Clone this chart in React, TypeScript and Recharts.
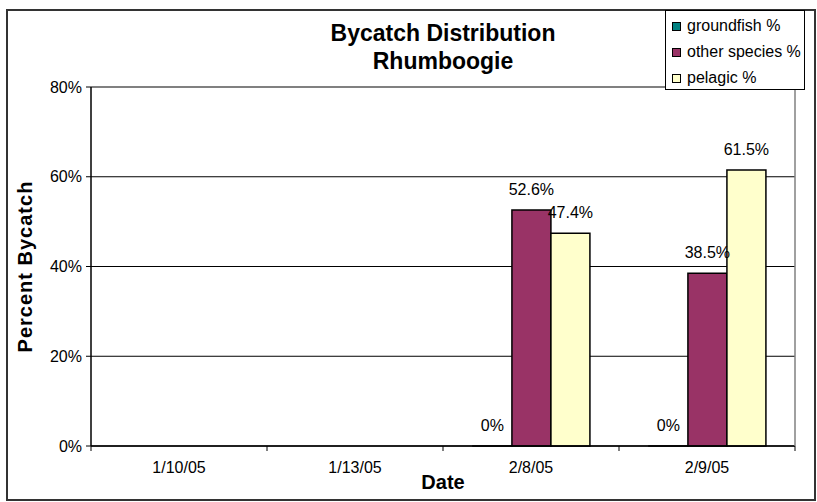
import React from "react";
import {
  Bar,
  BarChart,
  CartesianGrid,
  LabelList,
  Legend,
  ReferenceLine,
  XAxis,
  YAxis,
} from "recharts";

const DATES = ["1/10/05", "1/13/05", "2/8/05", "2/9/05"];
const GROUNDFISH = [null, null, 0, 0];
const OTHER = [null, null, 52.6, 38.5];
const PELAGIC = [null, null, 47.4, 61.5];
const Y_TICKS = [0, 20, 40, 60, 80];

const SERIES = [
  { key: "groundfish", name: "groundfish %", color: "#008080" },
  { key: "other", name: "other species %", color: "#993366" },
  { key: "pelagic", name: "pelagic %", color: "#FFFFCC" },
];

const data = DATES.map((date, i) => ({
  date,
  groundfish: GROUNDFISH[i],
  other: OTHER[i],
  pelagic: PELAGIC[i],
}));

const W = 817;
const H = 502;
const Y_W = 91;
const R_W = 22;
const X_H = 56;
const PLOT_W = W - Y_W - R_W;
const BAND = PLOT_W / DATES.length;
const FONT = '"Liberation Sans", Arial, sans-serif';

const fmt = (v: unknown) => (v == null ? "" : `${v}%`);

// zero-valued bars still need a rect so their "0%" label gets drawn
const zeroSize = (v: unknown) => (v === 0 ? 0.01 : 0);

function DateTick(props: any) {
  const { x, y, payload, index } = props;
  const last = index === DATES.length - 1;
  return (
    <g>
      <line x1={x - BAND / 2} x2={x - BAND / 2} y1={y} y2={y + 5} stroke="#000" />
      {last && <line x1={x + BAND / 2} x2={x + BAND / 2} y1={y} y2={y + 5} stroke="#000" />}
      <text x={x} y={y + 27} textAnchor="middle" fontSize={16} fontFamily={FONT} fill="#000">
        {payload.value}
      </text>
    </g>
  );
}

function LegendBox() {
  return (
    <div
      style={{
        width: 140,
        height: 80,
        boxSizing: "border-box",
        border: "1px solid #000",
        background: "#fff",
        paddingTop: 2,
        paddingLeft: 6,
        fontFamily: FONT,
        fontSize: 16,
        color: "#000",
      }}
    >
      {SERIES.map((s) => (
        <div key={s.key} style={{ height: 26, display: "flex", alignItems: "center" }}>
          <span
            style={{
              width: 9,
              height: 9,
              boxSizing: "border-box",
              border: "1px solid #000",
              background: s.color,
              marginRight: 6,
              display: "inline-block",
            }}
          />
          <span style={{ whiteSpace: "nowrap" }}>{s.name}</span>
        </div>
      ))}
    </div>
  );
}

export default function App() {
  return (
    <div style={{ position: "absolute", left: 0, top: 0, width: W, height: H, background: "#fff" }}>
      <div
        style={{
          position: "absolute",
          left: 6,
          top: 9,
          width: 810,
          height: 492,
          boxSizing: "border-box",
          border: "2px solid #333",
        }}
      />
      <BarChart
        width={W}
        height={H}
        data={data}
        margin={{ top: 87, right: 0, bottom: 0, left: 0 }}
        barCategoryGap="17%"
        barGap={0}
        style={{ fontFamily: FONT }}
      >
        <CartesianGrid vertical={false} stroke="#000" strokeWidth={1} />
        <XAxis
          dataKey="date"
          height={X_H}
          interval={0}
          tickSize={0}
          tickMargin={0}
          tickLine={false}
          axisLine={{ stroke: "#000", strokeWidth: 1.5 }}
          tick={(p: any) => <DateTick {...p} />}
          label={{
            content: (p: any) => {
              const vb = p.viewBox;
              return (
                <text
                  x={vb.x + vb.width / 2}
                  y={vb.y + 43}
                  textAnchor="middle"
                  fontSize={20}
                  fontWeight="bold"
                  fontFamily={FONT}
                  fill="#000"
                >
                  Date
                </text>
              );
            },
          }}
        />
        <YAxis
          width={Y_W}
          domain={[0, 80]}
          ticks={Y_TICKS}
          tickFormatter={(v: number) => `${v}%`}
          tickSize={5}
          tickMargin={4}
          tick={{ fill: "#000", fontSize: 16, fontFamily: FONT }}
          tickLine={{ stroke: "#000" }}
          axisLine={{ stroke: "#000", strokeWidth: 1.5 }}
          label={{
            content: (p: any) => {
              const vb = p.viewBox;
              const cx = vb.x + 25;
              const cy = vb.y + vb.height / 2;
              return (
                <text
                  x={cx}
                  y={cy}
                  transform={`rotate(-90 ${cx} ${cy})`}
                  textAnchor="middle"
                  dominantBaseline="central"
                  fontSize={20}
                  fontWeight="bold"
                  letterSpacing={1}
                  fontFamily={FONT}
                  fill="#000"
                >
                  Percent Bycatch
                </text>
              );
            },
          }}
        />
        <YAxis
          yAxisId="r"
          orientation="right"
          width={R_W}
          domain={[0, 80]}
          tick={false}
          tickLine={false}
          axisLine={{ stroke: "#808080", strokeWidth: 1.5 }}
        />
        <ReferenceLine y={80} stroke="#808080" strokeWidth={1.5} />
        {SERIES.map((s) => (
          <Bar
            key={s.key}
            dataKey={s.key}
            name={s.name}
            fill={s.color}
            stroke="#000"
            strokeWidth={1.5}
            minPointSize={zeroSize}
            isAnimationActive={false}
          >
            <LabelList
              dataKey={s.key}
              position="top"
              offset={15}
              formatter={fmt}
              fill="#000"
              fontSize={16}
              fontFamily={FONT}
            />
          </Bar>
        ))}
        <Legend
          layout="vertical"
          align="center"
          verticalAlign="middle"
          wrapperStyle={{ left: 665, top: 10, width: 140, height: 80 }}
          content={() => <LegendBox />}
        />
      </BarChart>
      <div
        style={{
          position: "absolute",
          left: Y_W,
          top: 19,
          width: PLOT_W,
          textAlign: "center",
          fontFamily: FONT,
          fontWeight: "bold",
          fontSize: 23,
          lineHeight: "28px",
          color: "#000",
        }}
      >
        Bycatch Distribution
        <br />
        Rhumboogie
      </div>
    </div>
  );
}
